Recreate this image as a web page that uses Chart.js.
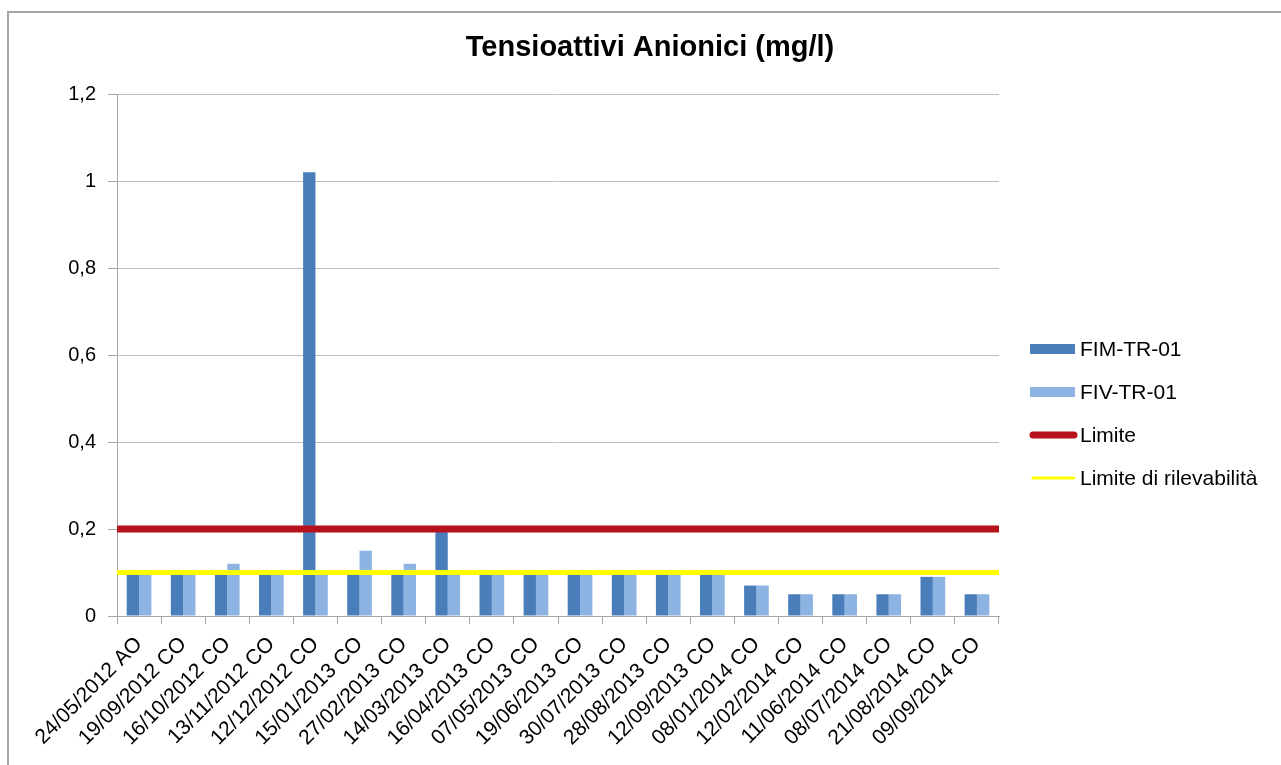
<!DOCTYPE html>
<html>
<head>
<meta charset="utf-8">
<script src="https://cdn.jsdelivr.net/npm/chart.js@4.4.0/dist/chart.umd.min.js"></script>
<style>
    html, body { margin: 0; padding: 0; background: #fff; overflow: hidden; }
    #frame { position: absolute; left: 7px; top: 11px; width: 1400px; height: 900px; border-left: 2px solid #a6a6a6; border-top: 2px solid #a6a6a6; }
    #chart { position: absolute; left: 0; top: 0; }
</style>
</head>
<body>
<div id="frame"></div>
<canvas id="chart" width="1281" height="765"></canvas>
<script>
// Dati del grafico
const categories = [
    '24/05/2012 AO', '19/09/2012 CO', '16/10/2012 CO', '13/11/2012 CO', '12/12/2012 CO',
    '15/01/2013 CO', '27/02/2013 CO', '14/03/2013 CO', '16/04/2013 CO', '07/05/2013 CO',
    '19/06/2013 CO', '30/07/2013 CO', '28/08/2013 CO', '12/09/2013 CO', '08/01/2014 CO',
    '12/02/2014 CO', '11/06/2014 CO', '08/07/2014 CO', '21/08/2014 CO', '09/09/2014 CO'
];
const fimValues = [0.1, 0.1, 0.1, 0.1, 1.02, 0.1, 0.1, 0.2, 0.1, 0.1, 0.1, 0.1, 0.1, 0.1, 0.07, 0.05, 0.05, 0.05, 0.09, 0.05];
const fivValues = [0.1, 0.1, 0.12, 0.1, 0.1, 0.15, 0.12, 0.1, 0.1, 0.1, 0.1, 0.1, 0.1, 0.1, 0.07, 0.05, 0.05, 0.05, 0.09, 0.05];
const limiteValues = [0.2, 0.2, 0.2, 0.2, 0.2, 0.2, 0.2, 0.2, 0.2, 0.2, 0.2, 0.2, 0.2, 0.2, 0.2, 0.2, 0.2, 0.2, 0.2, 0.2];
const rilevabilitaValues = [0.1, 0.1, 0.1, 0.1, 0.1, 0.1, 0.1, 0.1, 0.1, 0.1, 0.1, 0.1, 0.1, 0.1, 0.1, 0.1, 0.1, 0.1, 0.1, 0.1];
const yTickLabels = ['0', '0,2', '0,4', '0,6', '0,8', '1', '1,2'];
const chartTitle = 'Tensioattivi Anionici (mg/l)';

const FONT = '"Liberation Sans", Arial, sans-serif';

// Le linee di limite vanno da bordo a bordo come in Excel:
// primo e ultimo punto spostati sui bordi dell'area del grafico
const fullWidthLines = {
    id: 'fullWidthLines',
    afterDatasetUpdate(chart, args) {
        const meta = args.meta;
        if (meta.type !== 'line' || !meta.data.length) return;
        meta.data[0].x = chart.chartArea.left;
        meta.data[meta.data.length - 1].x = chart.chartArea.right;
    }
};

// Titolo e legenda disegnati a mano
const titleLegendPlugin = {
    id: 'titleLegend',
    afterDraw(chart) {
        const ctx = chart.ctx;
        const area = chart.chartArea;
        ctx.save();
        ctx.fillStyle = '#000';
        ctx.font = 'bold 29px ' + FONT;
        ctx.textAlign = 'center';
        ctx.textBaseline = 'middle';
        ctx.fillText(chartTitle, 650, 48);

        ctx.font = '21px ' + FONT;
        ctx.textAlign = 'left';
        const x0 = area.right + 31;
        chart.data.datasets.forEach((ds, i) => {
            const y = 349 + i * 43;
            if (ds.type === 'line') {
                ctx.strokeStyle = ds.borderColor;
                ctx.lineWidth = ds.legendWidth;
                ctx.lineCap = 'round';
                ctx.beginPath();
                ctx.moveTo(x0 + 3, y);
                ctx.lineTo(x0 + 44, y);
                ctx.stroke();
            } else {
                ctx.fillStyle = ds.backgroundColor;
                ctx.fillRect(x0, y - 5, 45, 10);
            }
            ctx.fillStyle = '#000';
            ctx.fillText(ds.label, x0 + 50, y + 1);
        });
        ctx.restore();
    }
};

new Chart(document.getElementById('chart'), {
    type: 'bar',
    data: {
        labels: categories,
        datasets: [
            { label: 'FIM-TR-01', data: fimValues, backgroundColor: '#4a7ebb', order: 2 },
            { label: 'FIV-TR-01', data: fivValues, backgroundColor: '#8db3e2', order: 2 },
            { type: 'line', label: 'Limite', data: limiteValues, borderColor: '#b5121b', borderWidth: 7, legendWidth: 7,
              pointRadius: 0, order: 0 },
            { type: 'line', label: 'Limite di rilevabilità', data: rilevabilitaValues, borderColor: '#ffff00', borderWidth: 5, legendWidth: 3,
              pointRadius: 0, order: 1 }
        ]
    },
    options: {
        responsive: false,
        animation: false,
        layout: { padding: { left: 10, right: 282, top: 94, bottom: 0 } },
        datasets: { bar: { categoryPercentage: 0.56, barPercentage: 1.0 } },
        plugins: {
            legend: { display: false },
            title: { display: false },
            tooltip: { enabled: false }
        },
        scales: {
            x: {
                offset: true,
                grid: { display: true, drawOnChartArea: false, drawTicks: true, tickLength: 8, color: '#a6a6a6', offset: true },
                border: { color: '#a6a6a6' },
                ticks: { autoSkip: false, minRotation: 45, maxRotation: 45, color: '#000', font: { family: FONT, size: 21 },
                         padding: 8 },
                afterFit: s => { s.height = 149; }
            },
            y: {
                min: 0,
                max: 1.2,
                ticks: { stepSize: 0.2, color: '#000', font: { family: FONT, size: 20 }, padding: 12,
                         callback: (v, i) => yTickLabels[i] },
                grid: { color: '#bfbfbf', tickLength: 9, tickColor: '#a6a6a6' },
                border: { color: '#a6a6a6' },
                afterFit: s => { s.width = 107; }
            }
        }
    },
    plugins: [fullWidthLines, titleLegendPlugin]
});
</script>
</body>
</html>
